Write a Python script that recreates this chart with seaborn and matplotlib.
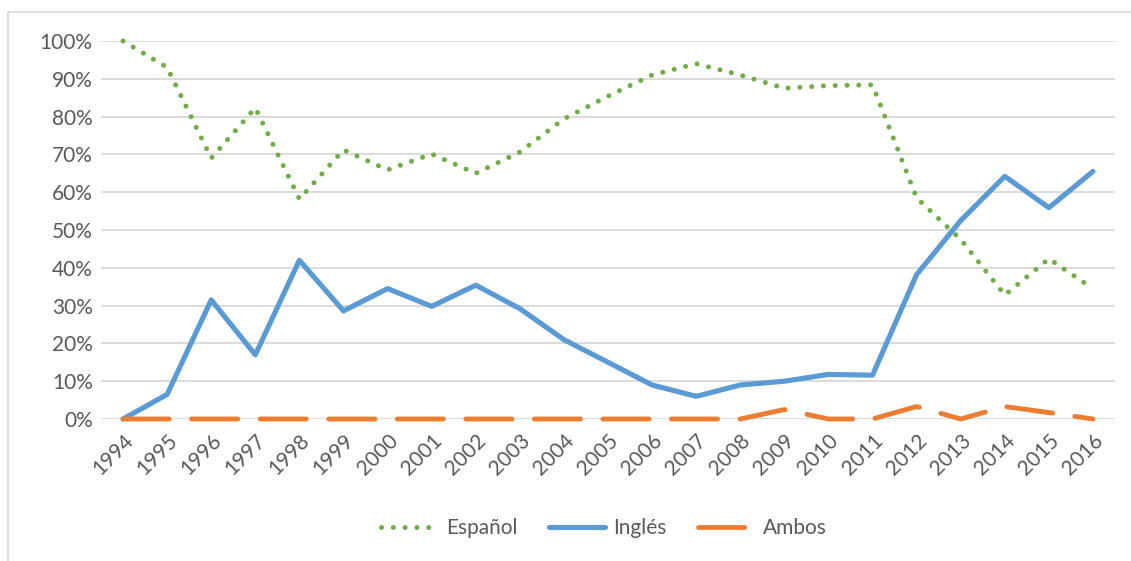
import matplotlib.pyplot as plt
import matplotlib.patches as mpatches
import pandas as pd
import seaborn as sns

years = [str(y) for y in range(1994, 2017)]
espanol = [100, 93, 69, 82.3, 58.2, 71.2, 65.9, 70.1, 65, 70.6, 79.4, 85.4,
           91, 94, 91, 87.5, 88.2, 88.4, 58.5, 47.5, 32.8, 42.4, 34.5]
ingles = [0, 6.5, 31.5, 17, 42, 28.6, 34.5, 29.8, 35.4, 29.2, 21, 15,
          9, 6, 9, 10, 11.8, 11.6, 38.2, 52.5, 64.2, 55.9, 65.5]
ambos = [0, 0, 0, 0, 0, 0, 0, 0, 0, 0, 0, 0,
         0, 0, 0, 2.5, 0, 0, 3.3, 0, 3.3, 1.7, 0]

df = pd.DataFrame({"year": years, "Español": espanol, "Inglés": ingles, "Ambos": ambos})
df["idx"] = range(len(years))

sns.set_theme(style="white")
plt.rcParams["font.family"] = ["Lato", "DejaVu Sans"]
text_color = "#595959"
fs = 15

fig = plt.figure(figsize=(11.31, 5.61), dpi=100)
ax = fig.add_axes([101 / 1131, 1 - 419 / 561, (1115 - 101) / 1131, (419 - 41) / 561])

# chart frame like Excel
fig.patches.append(mpatches.Rectangle((8 / 1131, -0.05), 1.1, 1 - 12 / 561 + 0.05,
                                      transform=fig.transFigure, fill=False,
                                      edgecolor="#D9D9D9", linewidth=1.2, zorder=0))

sns.lineplot(data=df, x="idx", y="Español", ax=ax, color="#70AD47", linewidth=3.6,
             label="Español")
sns.lineplot(data=df, x="idx", y="Inglés", ax=ax, color="#5B9BD5", linewidth=3.7,
             label="Inglés")
sns.lineplot(data=df, x="idx", y="Ambos", ax=ax, color="#ED7D31", linewidth=3.5,
             label="Ambos")

lines = ax.get_lines()
lines[0].set_linestyle((0, (0.01, 2.35)))
lines[0].set_dash_capstyle("round")
lines[1].set_solid_capstyle("round")
lines[2].set_linestyle((0, (9.5, 4.6)))
lines[2].set_dash_capstyle("round")

ax.set_xlim(-0.5, len(years) - 0.5)
ax.set_ylim(0, 100)
ax.set_yticks(range(0, 101, 10))
ax.set_yticklabels([f"{v}%" for v in range(0, 101, 10)])
ax.set_xticks(df["idx"])
ax.set_xticklabels(years, rotation=45, ha="right", va="top", rotation_mode="anchor")
ax.tick_params(axis="both", colors=text_color, labelsize=fs, length=0)
ax.tick_params(axis="x", pad=8)
ax.tick_params(axis="y", pad=6)
ax.set_xlabel("")
ax.set_ylabel("")
ax.grid(axis="y", color="#D9D9D9", linewidth=1.3)
ax.set_axisbelow(True)
for s in ax.spines.values():
    s.set_visible(False)
for ln in lines:
    ln.set_clip_on(False)

ax.legend_.remove()
leg = fig.legend(handles=lines, labels=["Español", "Inglés", "Ambos"], loc="center",
                 bbox_to_anchor=(0.534, 1 - 528 / 561), ncol=3, frameon=False,
                 fontsize=fs, handlelength=2.7, columnspacing=1.5, handletextpad=0.4)
for t in leg.get_texts():
    t.set_color(text_color)

fig.savefig("out.png", dpi=100)
